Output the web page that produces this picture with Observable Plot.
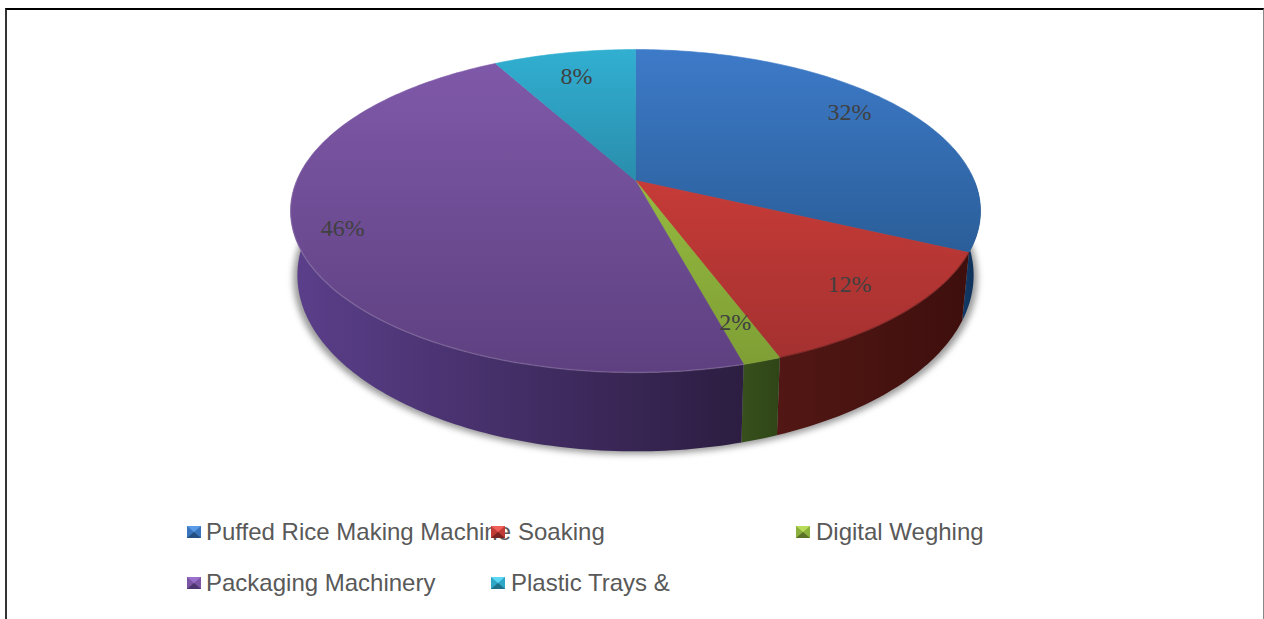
<!DOCTYPE html>
<html>
<head>
<meta charset="utf-8">
<script src="https://cdn.jsdelivr.net/npm/d3@7"></script>
<script src="https://cdn.jsdelivr.net/npm/@observablehq/plot@0.6"></script>
<style>
html,body{margin:0;padding:0;background:#fff;overflow:hidden;width:1264px;height:619px}
#chart svg{display:block}
#frame{position:absolute;left:5px;top:8px;width:1259px;height:611px;border-top:2px solid #000;border-left:2px solid #333;border-right:1px solid #888;box-sizing:border-box;pointer-events:none}
.lg{position:absolute;font:24px/30px "Liberation Sans",Arial,sans-serif;color:#595959;white-space:pre}
.sw{position:absolute;width:0;height:0;border-style:solid;border-width:6.5px 7.5px;box-sizing:content-box}
</style>
</head>
<body>
<div id="chart"></div>
<div id="legend"></div>
<div id="frame"></div>
<script>
// Values (printed labels are these, rounded)
const categories = ["Puffed Rice Making Machine", "Soaking", "Digital Weghing", "Packaging Machinery", "Plastic Trays &"];
const shares = [32, 12.3, 1.5, 46.2, 8];
const labels = ["32%", "12%", "2%", "46%", "8%"];

// Label placement on the disc: clockwise degrees from top, fraction of the radius
const labelAngles = [55.3, 136.6, 162.1, 250.4, 345.4];
const labelRadii = [0.837, 0.816, 0.818, 0.867, 0.79];

// Colours
const topLight = ["#3d7ac8", "#c63b37", "#94b93f", "#7f59a9", "#31afd1"];
const topDark = ["#2a5e99", "#a43130", "#7f9f35", "#5e4080", "#2a8dac"];
const wallLeft = ["#123a68", "#521714", "#37501c", "#5b3f8b", "#1f7089"];
const wallRight = ["#0d2c50", "#3e0f0d", "#2f4517", "#2c1d41", "#1f7089"];
const swatchTop = ["#5a9be8", "#f0605a", "#b8dc5a", "#9a70cc", "#5cd8f5"];
const swatchMid = ["#3a74bd", "#c03a36", "#8cb03c", "#7a55a4", "#2ea6c6"];
const swatchBottom = ["#254f80", "#7a2422", "#5a7228", "#4d3570", "#1f7089"];

// Tilted-disc projection
const persp = 0.189, scaleY = 155.7, scaleX = 338.8, rad = Math.PI / 180;
function onTop(deg, r = 1) {
  const u = r * Math.sin(deg * rad), v = -r * Math.cos(deg * rad), d = 1 - persp * v;
  return {x: scaleX * u / d, y: scaleY * v / d};
}
function onBottom(deg) {
  const p = onTop(deg);
  return {x: p.x * 0.98, y: p.y * 1.09 + 61.6};
}
function angles(a, b) {
  const out = [];
  for (let t = a; t < b; t += 1) out.push(t);
  out.push(b);
  return out;
}

const total = d3.sum(shares);
let acc = 0;
const slices = shares.map((s, i) => {
  const a = acc / total * 360; acc += s;
  return {i, a, b: acc / total * 360};
});

const faces = slices.map(s => [{x: 0, y: 0}, ...angles(s.a, s.b).map(t => onTop(t)), {x: 0, y: 0}]);
const walls = slices.map(s => {
  const a = Math.max(s.a, 90), b = Math.min(s.b, 270);
  if (a >= b) return [];
  const ts = angles(a, b);
  return [...ts.map(t => onTop(t)), ...ts.slice().reverse().map(t => onBottom(t))];
});
const rim = angles(slices[3].a, 270).map(t => onTop(t));
const rimRed = angles(slices[1].a, slices[1].b).map(t => onTop(t));
const shadow = angles(0, 360).map(t => {
  const p = onBottom(t);
  return {x: p.x * 1.012, y: p.y + 3};
});
const labelData = labels.map((text, i) => ({text, ...onTop(labelAngles[i], labelRadii[i])}));

const gradients = () => {
  const defs = document.createElementNS("http://www.w3.org/2000/svg", "defs");
  defs.innerHTML = categories.map((_, i) => `
    <linearGradient id="face${i}" x1="0" y1="0" x2="0" y2="1">
      <stop offset="0" stop-color="${topLight[i]}"/><stop offset="1" stop-color="${topDark[i]}"/>
    </linearGradient>
    <linearGradient id="wall${i}" x1="0" y1="0" x2="1" y2="0">
      <stop offset="0" stop-color="${wallLeft[i]}"/><stop offset="1" stop-color="${wallRight[i]}"/>
    </linearGradient>`).join("");
  return defs;
};

const chart = Plot.plot({
  width: 1264,
  height: 510,
  margin: 0,
  x: {type: "linear", domain: [-635, 629], range: [0, 1264], axis: null},
  y: {type: "linear", domain: [-180, 330], range: [0, 510], axis: null},
  marks: [
    gradients,
    Plot.line(shadow, {x: "x", y: "y", fill: "#9a9a9a", stroke: "none", imageFilter: "blur(3px)"}),
    ...walls.map((w, i) => Plot.line(w, {x: "x", y: "y", fill: `url(#wall${i})`, stroke: "none", curve: "linear"})),
    ...faces.map((f, i) => Plot.line(f, {x: "x", y: "y", fill: `url(#face${i})`, stroke: `url(#face${i})`, strokeWidth: 0.6, curve: "linear"})),
    Plot.line(rim, {x: "x", y: "y", stroke: "#ffffff", strokeOpacity: 0.14, strokeWidth: 1.5}),
    Plot.line(rimRed, {x: "x", y: "y", stroke: "#3e0f0d", strokeOpacity: 0.35, strokeWidth: 1.5}),
    Plot.text(labelData, {x: "x", y: "y", text: "text", fill: "#404040", fontSize: 24, fontFamily: "Liberation Serif, Times New Roman, serif"})
  ]
});
document.getElementById("chart").append(chart);

// Legend below the chart, in the reference's fixed columns and rows
const legendColumns = [187, 491, 796, 187, 491];
const legendRows = [526, 526, 526, 577, 577];
const legendTextGap = [19, 27, 20, 19, 20];
const legend = document.getElementById("legend");
categories.forEach((name, i) => {
  const sw = document.createElement("span");
  sw.className = "sw";
  sw.style.left = legendColumns[i] + "px";
  sw.style.top = legendRows[i] + "px";
  sw.style.borderColor = `${swatchTop[i]} ${swatchMid[i]} ${swatchBottom[i]} ${swatchMid[i]}`;
  const t = document.createElement("span");
  t.className = "lg";
  t.textContent = name;
  t.style.left = legendColumns[i] + legendTextGap[i] + "px";
  t.style.top = legendRows[i] - 9 + "px";
  legend.append(t, sw);
});
</script>
</body>
</html>
